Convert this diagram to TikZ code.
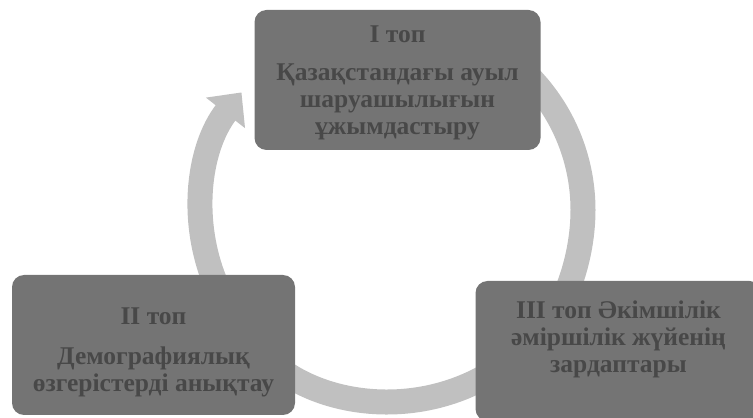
\documentclass[tikz,border=0pt]{standalone}
\usepackage{fontspec}
\setmainfont{Liberation Serif}
\usetikzlibrary{arrows.meta}
\definecolor{boxgray}{RGB}{116,116,116}
\definecolor{txtgray}{RGB}{72,72,72}
\definecolor{arcgray}{RGB}{192,192,192}
\begin{document}
\begin{tikzpicture}[x=1pt, y=1pt,
  font=\bfseries\fontsize{25.5}{27}\selectfont,
  grp/.style={rectangle, rounded corners=12pt, fill=boxgray, text=txtgray, align=center,
    minimum width=286pt, minimum height=140pt, inner sep=4pt},
  cyc/.style={arcgray, line width=25pt}]
\useasboundingbox (0,0) rectangle (753,418);
\clip (0,0) rectangle (753,418);
\coordinate (c) at (392,208);
% the cycle, drawn first so the boxes sit on it
\draw[cyc, -{Triangle[width=48pt,length=26pt]}] ([shift={(205:191)}]c) arc[start angle=205, end angle=142, radius=191];
\draw[cyc, -{Triangle[width=48pt,length=26pt]}] ([shift={(60:191)}]c) arc[start angle=60, end angle=-42, radius=191];
\draw[cyc, -{Triangle[width=48pt,length=26pt]}] ([shift={(-60:191)}]c) arc[start angle=-60, end angle=-142, radius=191];
% groups
\node[grp, text depth=0pt] (grpone) at (397.5,338) {I топ\\[11pt]Қазақстандағы ауыл\\шаруашылығын\\ұжымдастыру};
\node[grp, minimum width=283pt, text depth=0pt, text height=92pt] (grptwo) at (153.5,73) {II топ\\[13pt]Демографиялық\\өзгерістерді анықтау};
\node[grp, text depth=29pt] (grpthree) at (618.5,67) {III топ Әкімшілік\\әміршілік жүйенің\\зардаптары};
\end{tikzpicture}
\end{document}
